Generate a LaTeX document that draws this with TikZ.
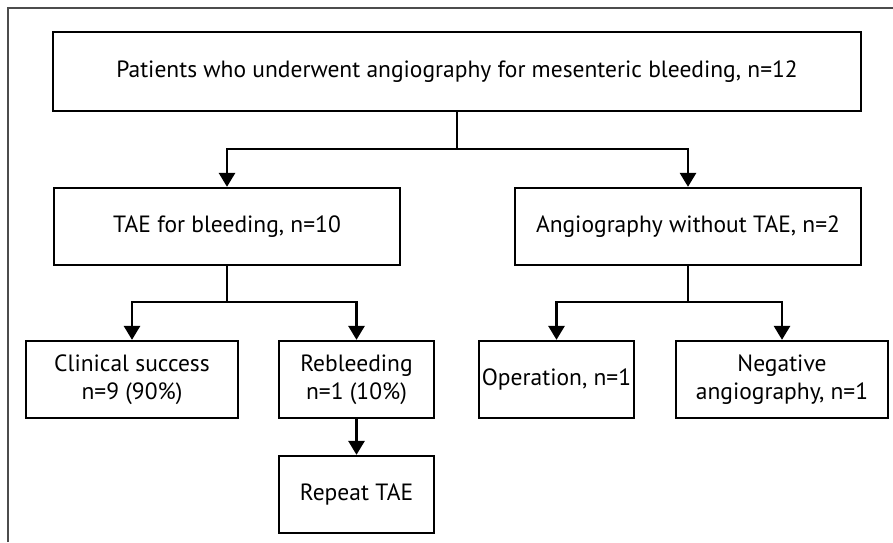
\documentclass[tikz,border=0pt]{standalone}
\usepackage{fontspec}
\setmainfont{PT Sans}
\usetikzlibrary{arrows.meta}
\begin{document}
\begin{tikzpicture}[x=1pt,y=-1pt,
  box/.style={draw=black, line width=2.3pt, fill=white, minimum height=77pt, inner sep=0pt, align=center, font=\fontsize{23.5}{28}\selectfont},
  conn/.style={line width=2.8pt, black},
  arr/.style={conn, -{Triangle[width=16pt,length=14pt]}},
  frame/.style={line width=1.3pt, black!70}]
\useasboundingbox (0,0) rectangle (893,542);
\fill[white] (0,0) rectangle (893,542);
\coordinate (fb) at (8,542);
\coordinate (ftl) at (8,8);
\coordinate (ftr) at (893,8);
\draw[frame] (fb) -- (ftl) -- (ftr);

\node[box, minimum width=808pt, minimum height=79pt] (top) at (457,71.5) {Patients who underwent angiography for mesenteric bleeding, n=12};
\node[box, minimum width=346pt] (tae) at (227,226.5) {TAE for bleeding, n=10};
\node[box, minimum width=346pt] (ang) at (688,226.5) {Angiography without TAE, n=2};
\node[box, minimum width=212pt] (clin) at (132,379.5) {Clinical success\\n=9 (90\%)};
\node[box, minimum width=155pt] (reb) at (356.5,379.5) {Rebleeding\\n=1 (10\%)};
\node[box, minimum width=155pt] (rep) at (356.5,494.5) {Repeat TAE};
\node[box, minimum width=155pt] (op) at (556.5,379.5) {Operation, n=1};
\node[box, minimum width=212pt] (neg) at (782,379.5) {Negative\\angiography, n=1};

\coordinate (j1) at (457,149);
\coordinate (j2) at (227,302);
\coordinate (j3) at (688,302);

\draw[conn] (top.south) -- (j1);
\draw[arr] (j1) -| (tae.north);
\draw[arr] (j1) -| (ang.north);
\draw[conn] (tae.south) -- (j2);
\draw[arr] (j2) -| (clin.north);
\draw[arr] (j2) -| (reb.north);
\draw[conn] (ang.south) -- (j3);
\draw[arr] (j3) -| (op.north);
\draw[arr] (j3) -| (neg.north);
\draw[arr] (reb.south) -- (rep.north);
\end{tikzpicture}
\end{document}
